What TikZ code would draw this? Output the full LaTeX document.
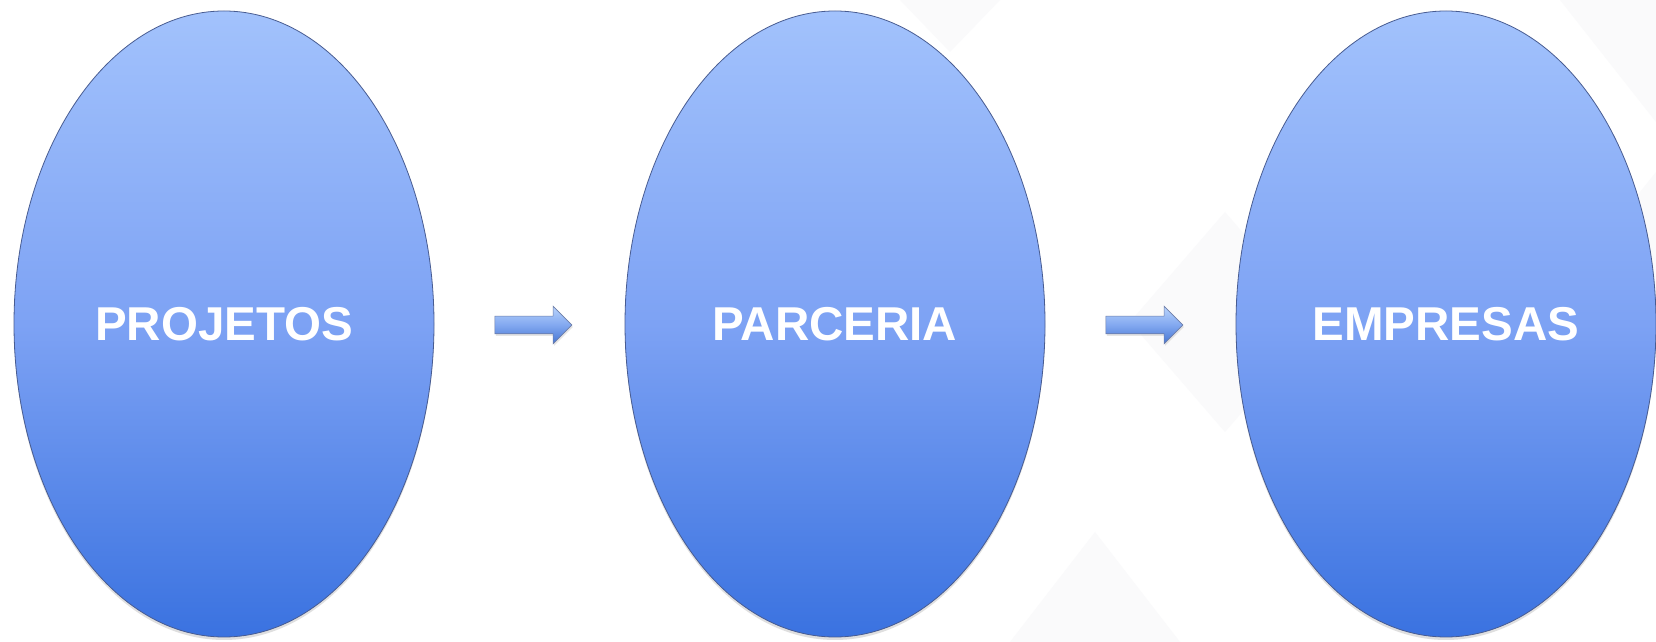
\documentclass[tikz,border=0pt]{standalone}
\usepackage{fontspec}
\setmainfont{Liberation Sans}
\usetikzlibrary{shapes.geometric,shapes.arrows,shadows}
\definecolor{ovtop}{RGB}{162,194,252}
\definecolor{ovmid}{RGB}{125,162,244}
\definecolor{ovbot}{RGB}{58,114,224}
\definecolor{ovline}{RGB}{72,92,145}
\definecolor{artop}{RGB}{185,212,252}
\definecolor{armid}{RGB}{130,168,240}
\definecolor{arbot}{RGB}{70,118,210}
\definecolor{bgtri}{RGB}{250,250,251}
\tikzset{
  oval/.style={ellipse, minimum width=420pt, minimum height=626pt, inner sep=0pt,
    draw=ovline, line width=0.8pt, top color=ovtop, bottom color=ovbot, middle color=ovmid,
    drop shadow={opacity=0.25, shadow xshift=0pt, shadow yshift=-3pt},
    text=white, font=\fontsize{47.5}{56}\selectfont\bfseries},
  blockarrow/.style={single arrow, minimum height=77pt, minimum width=36pt,
    inner xsep=0pt, inner ysep=8.5pt, single arrow head extend=10pt,
    draw=ovline!80, line width=0.6pt, top color=artop, bottom color=arbot, middle color=armid,
    drop shadow={opacity=0.2, shadow xshift=1pt, shadow yshift=-2pt}},
  bgshape/.style={fill=bgtri, draw=none}
}
\begin{document}
\begin{tikzpicture}[x=1pt,y=1pt]
\useasboundingbox (0,0) rectangle (1656,642);
\fill[white] (0,0) rectangle (1656,642);
% faint background pattern
\fill[bgshape] (1225,430) -- (1320,320) -- (1225,210) -- (1130,320) -- cycle;
\fill[bgshape] (1010,0) -- (1180,0) -- (1095,110) -- cycle;
\fill[bgshape] (1560,642) -- (1656,642) -- (1656,520) -- cycle;
\fill[bgshape] (1656,470) -- (1600,400) -- (1656,330) -- cycle;
\fill[bgshape] (900,642) -- (1000,642) -- (950,590) -- cycle;
% ovals
\node[oval] (p1) at (224,318) {PROJETOS};
\node[oval] (p2) at (835,318) {PARCERIA};
\node[oval] (p3) at (1446,318) {EMPRESAS};
% arrows
\node[blockarrow] (a1) at (529,317) {};
\node[blockarrow] (a2) at (1140,317) {};
\end{tikzpicture}
\end{document}
